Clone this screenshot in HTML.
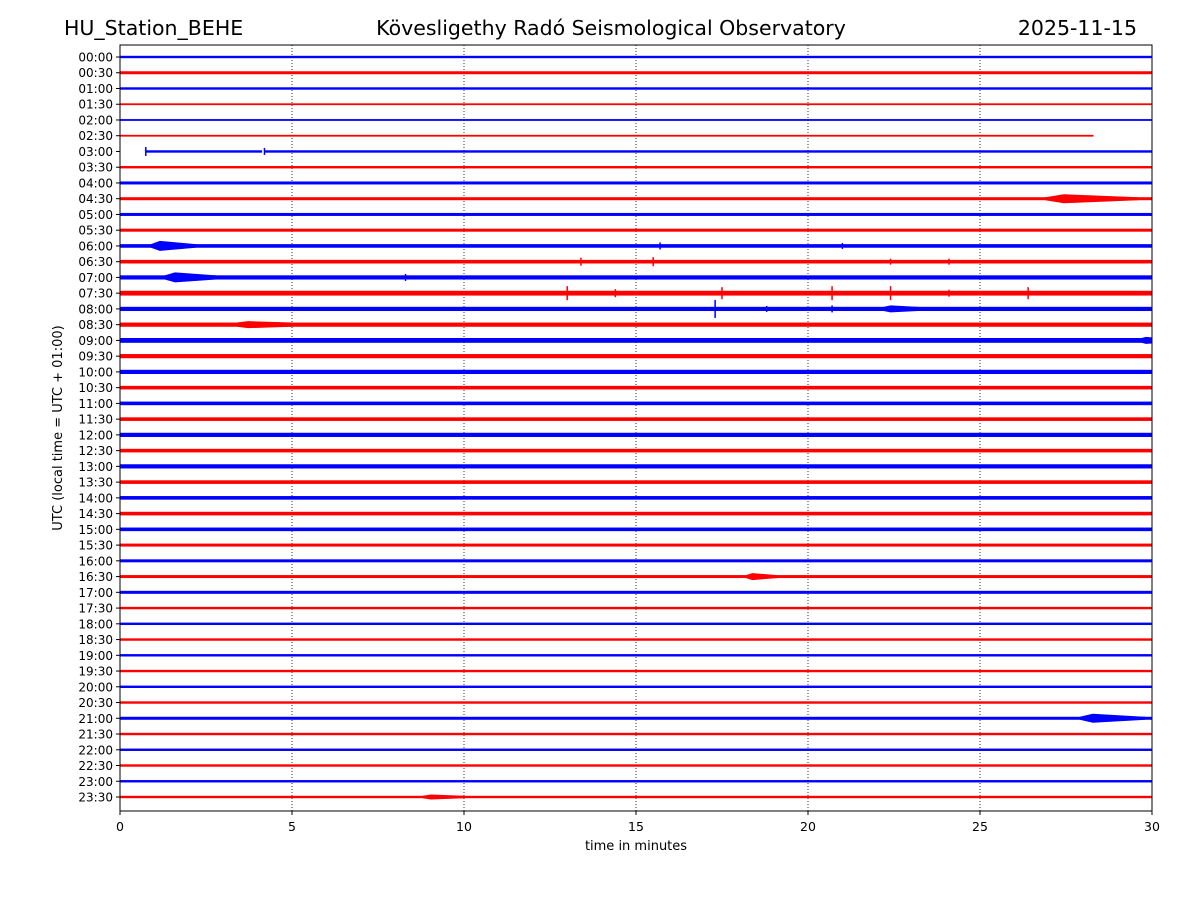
<!DOCTYPE html>
<html><head><meta charset="utf-8"><style>
body{margin:0;background:#fff;}
svg text{font-family:"DejaVu Sans","Liberation Sans",sans-serif;}
</style></head><body>
<svg id="c" width="1200" height="900" xmlns="http://www.w3.org/2000/svg">
<defs><clipPath id="pc"><rect x="120" y="45" width="1032" height="766"/></clipPath></defs>
<rect width="1200" height="900" fill="#fff"/>
<text x="64" y="35" font-size="20.5">HU_Station_BEHE</text>
<text x="611" y="35" font-size="20.5" text-anchor="middle">Kövesligethy Radó Seismological Observatory</text>
<text x="1137" y="35" font-size="20.5" text-anchor="end">2025-11-15</text>
<g id="grid"></g><g id="traces" clip-path="url(#pc)"></g><g id="axes"></g>
<text x="636" y="850" font-size="13" text-anchor="middle">time in minutes</text>
<text transform="translate(62,428) rotate(-90)" font-size="13" text-anchor="middle">UTC (local time = UTC + 01:00)</text>
<rect x="120" y="45" width="1032" height="766" fill="none" stroke="#000" stroke-width="1"/>
</svg>
<script>
const rowLabels=["00:00","00:30","01:00","01:30","02:00","02:30","03:00","03:30","04:00","04:30","05:00","05:30","06:00","06:30","07:00","07:30","08:00","08:30","09:00","09:30","10:00","10:30","11:00","11:30","12:00","12:30","13:00","13:30","14:00","14:30","15:00","15:30","16:00","16:30","17:00","17:30","18:00","18:30","19:00","19:30","20:00","20:30","21:00","21:30","22:00","22:30","23:00","23:30"];
const noiseAmp=[2,2.5,2,1.5,1.5,1.5,2,2,2.5,2.5,2.5,2.5,3,3,3.5,4,3.5,3.5,4,3.5,3.5,3,3,3,3.5,3,3.5,3,3,3,3,2.5,2.5,2.5,2.5,2,2,2,2,2,2,2,2.5,2,2,2,2,2];
const traceStart=[0,0,0,0,0,0,0.75,0,0,0,0,0,0,0,0,0,0,0,0,0,0,0,0,0,0,0,0,0,0,0,0,0,0,0,0,0,0,0,0,0,0,0,0,0,0,0,0,0];
const traceEnd=[30,30,30,30,30,28.3,30,30,30,30,30,30,30,30,30,30,30,30,30,30,30,30,30,30,30,30,30,30,30,30,30,30,30,30,30,30,30,30,30,30,30,30,30,30,30,30,30,30];
const gapRow=[6], gapStart=[4.13], gapEnd=[4.21];
const evRow=[6,6,9,12,12,12,13,13,13,13,14,14,15,15,15,15,15,15,15,16,16,16,16,17,18,33,42,47];
const evMin=[0.75,4.2,26.9,0.9,15.7,21,13.4,15.5,22.4,24.1,1.3,8.3,13,14.4,17.5,20.7,22.4,24.1,26.4,17.3,18.8,20.7,22.2,3.4,29.7,18.2,27.9,8.8];
const evAmp=[9,7,9,10,7,6,8,9,6,6,10,7,14,8,12,14,14,7,12,18,6,7,7,7,7,7,9,5];
const evDur=[0.05,0.05,2.7,1.3,0.05,0.05,0.05,0.05,0.05,0.05,1.5,0.05,0.05,0.05,0.05,0.05,0.05,0.05,0.05,0.05,0.05,0.05,1.0,1.6,0.6,0.9,1.9,1.2];
const xTicks=[0,5,10,15,20,25,30];
const NS="http://www.w3.org/2000/svg";
const x=m=>120+m*1032/30;
const y=i=>57+i*(797-57)/47;
const ampScale=1.2;
function mk(t,a,p){const e=document.createElementNS(NS,t);for(const k in a)e.setAttribute(k,a[k]);p.appendChild(e);return e;}
const grid=document.getElementById('grid'),tr=document.getElementById('traces'),ax=document.getElementById('axes');
xTicks.forEach(v=>{
  if(v>0&&v<30){const g=mk('line',{x1:x(v),x2:x(v),y1:45,y2:811,stroke:'#000','stroke-width':0.8,'stroke-dasharray':'1,2'},grid);
  
  }
  const t=mk('line',{x1:x(v),x2:x(v),y1:811,y2:815,stroke:'#000'},ax);
  
  
  const l=mk('text',{x:x(v),y:831,'font-size':12.5,'text-anchor':'middle'},ax);l.textContent=v;
  
  
});
rowLabels.forEach((lab,i)=>{
  const col=i%2?'#ff0000':'#0000ff';
  const a=noiseAmp[i]*ampScale;
  const r=mk('rect',{x:x(traceStart[i]),y:y(i)-a/2,width:x(traceEnd[i])-x(traceStart[i]),height:a,fill:col},tr);
  
  
  const t=mk('line',{x1:116,x2:120,y1:y(i),y2:y(i),stroke:'#000'},ax);
  
  
  const l=mk('text',{x:113,y:y(i)+4.5,'font-size':12,'text-anchor':'end'},ax);l.textContent=lab;
  
  
});
gapRow.forEach((r,k)=>{
  const gp=mk('rect',{x:x(gapStart[k]),y:y(r)-3,width:x(gapEnd[k])-x(gapStart[k]),height:6,fill:'#fff'},tr);
  
  
});
evRow.forEach((r,k)=>{
  const col=r%2?'#ff0000':'#0000ff';
  const x0=x(evMin[k]), yc=y(r), h=evAmp[k]/2, n=noiseAmp[r]*ampScale/2;
  let e;
  if(evDur[k]<=0.1){
    e=mk('rect',{x:x0-0.75,y:yc-h,width:1.5,height:2*h,fill:col},tr);
  } else {
    const x1=x(evMin[k]+evDur[k]), xp=x0+(x1-x0)*0.2;
    const d=`M${x0},${yc-n} L${xp},${yc-h} L${x1},${yc-n} L${x1},${yc+n} L${xp},${yc+h} L${x0},${yc+n} Z`;
    e=mk('path',{d:d,fill:col},tr);
  }
  
  
});
</script>
</body></html>
